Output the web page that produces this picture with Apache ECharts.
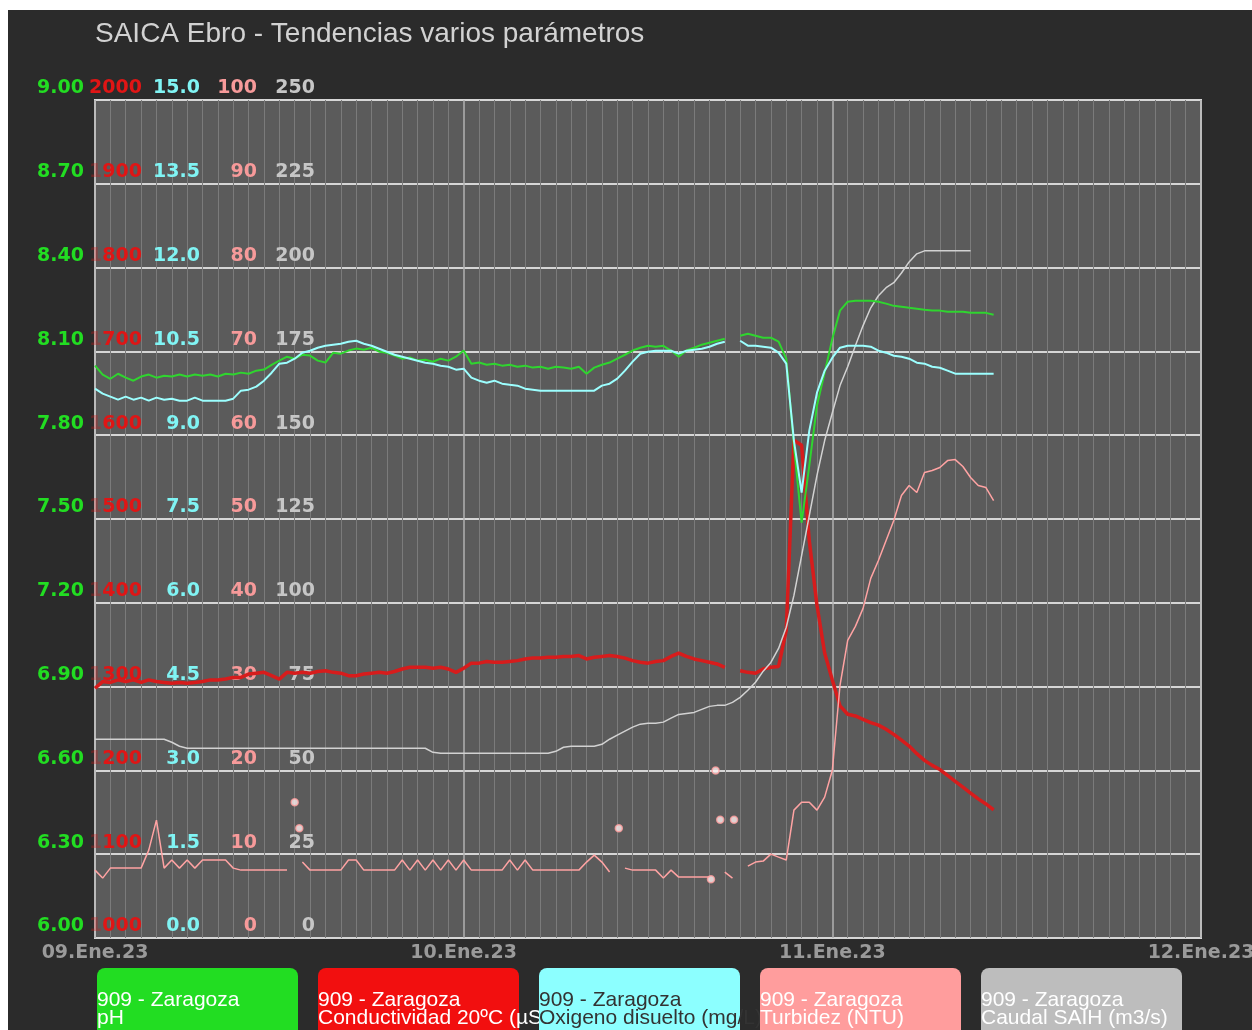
<!DOCTYPE html>
<html>
<head>
<meta charset="utf-8">
<title>SAICA Ebro - Tendencias varios parámetros</title>
<script src="https://cdn.jsdelivr.net/npm/echarts@6/dist/echarts.min.js"></script>
<style>
  html, body { margin: 0; padding: 0; background: #ffffff; }
  #chart { position: absolute; left: 8px; top: 10px; width: 1244px; height: 1020px; }
</style>
</head>
<body>
<div id="chart"></div>
<script>
// Station 909 - Zaragoza, readings every 30 minutes from 09.Ene.23 00:00
const STEP_HOURS = 0.5;
const dayLabels = ['09.Ene.23', '10.Ene.23', '11.Ene.23', '12.Ene.23'];

const NAME_PH = 'pH';
const NAME_COND = 'Conductividad 20ºC (µS/cm)';
const NAME_O2 = 'Oxigeno disuelto (mg/L)';
const NAME_TURB = 'Turbidez (NTU)';
const NAME_FLOW = 'Caudal SAIH (m3/s)';

const ph = [
  8.049, 8.017, 8.002, 8.020, 8.006, 7.995, 8.010, 8.017, 8.006, 8.013,
  8.010, 8.017, 8.010, 8.017, 8.013, 8.017, 8.010, 8.020, 8.017, 8.024,
  8.020, 8.031, 8.035, 8.052, 8.067, 8.081, 8.074, 8.088, 8.085, 8.067,
  8.060, 8.095, 8.092, 8.103, 8.110, 8.106, 8.113, 8.099, 8.095, 8.085,
  8.074, 8.078, 8.067, 8.070, 8.063, 8.074, 8.067, 8.081, 8.103, 8.056,
  8.060, 8.052, 8.056, 8.049, 8.052, 8.045, 8.049, 8.042, 8.045, 8.038,
  8.045, 8.042, 8.038, 8.045, 8.020, 8.042, 8.052, 8.060, 8.074, 8.088,
  8.103, 8.113, 8.120, 8.117, 8.120, 8.103, 8.081, 8.103, 8.113, 8.124,
  8.131, 8.138, 8.145, null, 8.156, 8.163, 8.156, 8.149, 8.149, 8.135,
  8.074, 7.763, 7.487, 7.691, 7.906, 8.024, 8.145, 8.246, 8.278, 8.281,
  8.281, 8.281, 8.278, 8.271, 8.263, 8.260, 8.256, 8.253, 8.249, 8.246,
  8.246, 8.242, 8.242, 8.242, 8.238, 8.238, 8.238, 8.231
];

const conductivity = [
  1298, 1306, 1305, 1308, 1306, 1308, 1305, 1308, 1306, 1305,
  1304, 1305, 1304, 1305, 1306, 1308, 1308, 1309, 1311, 1311,
  1315, 1316, 1317, 1313, 1309, 1317, 1316, 1317, 1316, 1318,
  1319, 1317, 1316, 1313, 1313, 1315, 1316, 1317, 1316, 1318,
  1321, 1323, 1323, 1323, 1322, 1323, 1321, 1317, 1322, 1328,
  1328, 1330, 1329, 1329, 1330, 1331, 1333, 1334, 1334, 1335,
  1335, 1336, 1336, 1337, 1333, 1335, 1336, 1337, 1336, 1334,
  1331, 1329, 1328, 1330, 1331, 1336, 1340, 1336, 1333, 1331,
  1329, 1327, 1323, null, 1319, 1317, 1316, 1321, 1323, 1324,
  1367, 1594, 1588, 1474, 1397, 1340, 1308, 1277, 1267, 1265,
  1261, 1257, 1254, 1249, 1243, 1236, 1229, 1220, 1212, 1206,
  1201, 1194, 1187, 1180, 1173, 1166, 1160, 1153
];

const oxygen = [
  9.833, 9.744, 9.690, 9.636, 9.690, 9.636, 9.672, 9.618, 9.672, 9.636,
  9.654, 9.618, 9.618, 9.672, 9.618, 9.618, 9.618, 9.618, 9.654, 9.797,
  9.815, 9.869, 9.976, 10.119, 10.280, 10.298, 10.369, 10.477, 10.512, 10.566,
  10.602, 10.620, 10.637, 10.673, 10.691, 10.637, 10.602, 10.548, 10.494, 10.441,
  10.405, 10.369, 10.333, 10.298, 10.280, 10.244, 10.226, 10.173, 10.190, 10.030,
  9.976, 9.940, 9.976, 9.922, 9.904, 9.887, 9.833, 9.815, 9.797, 9.797,
  9.797, 9.797, 9.797, 9.797, 9.797, 9.797, 9.887, 9.922, 10.012, 10.155,
  10.316, 10.459, 10.494, 10.512, 10.512, 10.512, 10.459, 10.512, 10.530, 10.548,
  10.584, 10.637, 10.673, null, 10.691, 10.602, 10.602, 10.584, 10.566, 10.477,
  10.280, 8.903, 7.974, 9.082, 9.761, 10.155, 10.387, 10.566, 10.602, 10.602,
  10.602, 10.584, 10.512, 10.477, 10.423, 10.405, 10.369, 10.298, 10.280, 10.226,
  10.208, 10.155, 10.101, 10.101, 10.101, 10.101, 10.101, 10.101
];

const turbidity = [
  8.10, 7.15, 8.34, 8.34, 8.34, 8.34, 8.34, 10.49, 14.06, 8.34,
  9.30, 8.34, 9.30, 8.34, 9.30, 9.30, 9.30, 9.30, 8.34, 8.10,
  8.10, 8.10, 8.10, 8.10, 8.10, 8.10, null, 9.06, 8.10, 8.10,
  8.10, 8.10, 8.10, 9.30, 9.30, 8.10, 8.10, 8.10, 8.10, 8.10,
  9.30, 8.10, 9.30, 8.10, 9.30, 8.10, 9.30, 8.10, 9.30, 8.10,
  8.10, 8.10, 8.10, 8.10, 9.30, 8.10, 9.30, 8.10, 8.10, 8.10,
  8.10, 8.10, 8.10, 8.10, 9.06, 9.89, 9.06, 7.87, null, 8.34,
  8.10, 8.10, 8.10, 8.10, 7.15, 8.10, 7.27, 7.27, 7.27, 7.27,
  7.27, null, 7.87, 7.15, null, 8.58, 9.06, 9.18, 10.01, 9.65,
  9.30, 15.26, 16.21, 16.21, 15.26, 16.81, 20.02, 30.16, 35.52, 37.19,
  39.33, 42.91, 45.05, 47.44, 49.82, 52.80, 53.99, 53.16, 55.54, 55.78,
  56.14, 56.97, 57.09, 56.26, 54.95, 53.99, 53.75, 52.20
];

// isolated turbidity readings (hours since 09.Ene.23 00:00)
const turbidityDotHours = [13.0, 13.3, 34.1, 40.1, 40.4, 40.7, 41.6];
const turbidityDotValues = [16.2, 13.1, 13.1, 7.0, 20.0, 14.1, 14.1];

const flow = [
  59.3, 59.3, 59.3, 59.3, 59.3, 59.3, 59.3, 59.3, 59.3, 59.3,
  58.4, 57.2, 56.6, 56.6, 56.6, 56.6, 56.6, 56.6, 56.6, 56.6,
  56.6, 56.6, 56.6, 56.6, 56.6, 56.6, 56.6, 56.6, 56.6, 56.6,
  56.6, 56.6, 56.6, 56.6, 56.6, 56.6, 56.6, 56.6, 56.6, 56.6,
  56.6, 56.6, 56.6, 56.6, 55.4, 55.1, 55.1, 55.1, 55.1, 55.1,
  55.1, 55.1, 55.1, 55.1, 55.1, 55.1, 55.1, 55.1, 55.1, 55.1,
  55.7, 56.9, 57.2, 57.2, 57.2, 57.2, 57.8, 59.3, 60.5, 61.7,
  62.9, 63.8, 64.1, 64.1, 64.4, 65.6, 66.7, 67.0, 67.3, 68.2,
  69.1, 69.4, 69.4, 70.3, 71.8, 73.9, 76.3, 79.6, 82.2, 86.4,
  92.7, 102.2, 114.1, 126.0, 138.0, 148.4, 156.7, 164.8, 170.4, 176.7,
  182.7, 188.0, 191.6, 194.0, 195.5, 198.4, 201.7, 204.1, 205.0, 205.0,
  205.0, 205.0, 205.0, 205.0, 205.0, null, null, null
];

const toPoints = values => values.map((v, i) => [i * STEP_HOURS, v]);

const LABEL_FONT = { fontFamily: 'DejaVu Sans', fontSize: 19, fontWeight: 'bold' };

function valueAxis(min, max, interval, color, margin, formatter, extra) {
  return Object.assign({
    type: 'value',
    position: 'left',
    min: min,
    max: max,
    interval: interval,
    axisLine: { show: false },
    axisTick: { show: false },
    splitLine: { show: false },
    axisLabel: Object.assign({
      color: color,
      margin: margin,
      verticalAlign: 'bottom',
      padding: [0, 0, 2, 0],
      formatter: formatter
    }, LABEL_FONT)
  }, extra || {});
}

const condAxis = valueAxis(1000, 2000, 100, '#e01515', -47, v =>
  v >= 2000 ? '{n|' + v + '}' : '{f|' + String(v).charAt(0) + '}{n|' + String(v).slice(1) + '}');
condAxis.axisLabel.rich = {
  n: Object.assign({ color: '#e01515' }, LABEL_FONT),
  f: Object.assign({ color: 'rgba(224,21,21,0.3)' }, LABEL_FONT)
};

// one legend tile per series; a long name runs on and is hidden under the next tile
const legendTiles = [
  { name: NAME_PH, bg: '#22dd22', fg: '#ffffff' },
  { name: NAME_COND, bg: '#f20f0f', fg: '#ffffff' },
  { name: NAME_O2, bg: '#8cffff', fg: '#333333' },
  { name: NAME_TURB, bg: '#ff9d9d', fg: '#ffffff' },
  { name: NAME_FLOW, bg: '#bdbdbd', fg: '#ffffff' }
];

const legends = legendTiles.map((tile, k) => ({
  left: 84 + 221 * k,
  top: 958,
  z: 10 + k,
  padding: 0,
  itemWidth: 0,
  itemHeight: 0,
  icon: 'none',
  formatter: name => '909 - Zaragoza\n' + name,
  data: [{
    name: tile.name,
    textStyle: {
      color: tile.fg,
      backgroundColor: tile.bg,
      borderRadius: [8, 8, 0, 0],
      width: 201,
      height: 60,
      padding: [22, 0, 0, 0],
      lineHeight: 18,
      fontSize: 21,
      fontFamily: 'Liberation Sans',
      overflow: 'none'
    }
  }]
}));

const chart = echarts.init(document.getElementById('chart'), null, { renderer: 'canvas' });

chart.setOption({
  animation: false,
  backgroundColor: '#2b2b2b',
  title: {
    text: 'SAICA Ebro - Tendencias varios parámetros',
    left: 87,
    top: 10,
    padding: 0,
    textStyle: { color: '#d2d2d2', fontSize: 28, fontWeight: 'normal', fontFamily: 'Liberation Sans' }
  },
  grid: {
    left: 87, right: 51, top: 90, bottom: 92,
    outerBoundsMode: 'none',
    containLabel: false,
    show: true,
    backgroundColor: '#5b5b5b',
    borderColor: '#dadada',
    borderWidth: 2
  },
  legend: legends,
  xAxis: {
    type: 'value',
    min: 0,
    max: 72,
    interval: 24,
    axisLine: { show: false },
    axisTick: { show: false },
    axisLabel: {
      color: '#9a9a9a',
      fontFamily: 'DejaVu Sans',
      fontSize: 19,
      fontWeight: 'bold',
      margin: 6,
      formatter: v => dayLabels[Math.round(v / 24)]
    },
    splitLine: { show: true, lineStyle: { color: '#b0b0b0', width: 1.5 } },
    minorTick: { show: false, splitNumber: 24 },
    minorSplitLine: { show: true, lineStyle: { color: '#7b7b7b', width: 1 } }
  },
  yAxis: [
    valueAxis(6, 9, 0.3, '#22dd22', 11, v => v.toFixed(2),
      { splitLine: { show: true, lineStyle: { color: '#d6d6d6', width: 2 } } }),
    condAxis,
    valueAxis(0, 15, 1.5, '#80f4f4', -105, v => v.toFixed(1)),
    valueAxis(0, 100, 10, '#f79a9a', -162, v => String(Math.round(v))),
    valueAxis(0, 250, 25, '#c6c6c6', -220, v => String(Math.round(v)))
  ],
  series: [
    {
      name: NAME_COND, type: 'line', yAxisIndex: 1, data: toPoints(conductivity),
      showSymbol: false, connectNulls: false,
      lineStyle: { color: '#d71c1c', width: 3.5 }, itemStyle: { color: '#f20f0f' }
    },
    {
      name: NAME_TURB, type: 'line', yAxisIndex: 3, data: toPoints(turbidity),
      showSymbol: false, connectNulls: false,
      lineStyle: { color: '#ffa3a3', width: 1.5 }, itemStyle: { color: '#ff9d9d' }
    },
    {
      name: NAME_TURB, type: 'scatter', yAxisIndex: 3,
      data: turbidityDotHours.map((h, i) => [h, turbidityDotValues[i]]),
      symbol: 'circle', symbolSize: 7,
      itemStyle: { color: '#fff0f0', borderColor: '#ff9d9d', borderWidth: 1.5 }
    },
    {
      name: NAME_FLOW, type: 'line', yAxisIndex: 4, data: toPoints(flow),
      showSymbol: false, connectNulls: false,
      lineStyle: { color: '#d2d2d2', width: 1.5 }, itemStyle: { color: '#bdbdbd' }
    },
    {
      name: NAME_PH, type: 'line', yAxisIndex: 0, data: toPoints(ph),
      showSymbol: false, connectNulls: false,
      lineStyle: { color: '#2fd52f', width: 2 }, itemStyle: { color: '#22dd22' }
    },
    {
      name: NAME_O2, type: 'line', yAxisIndex: 2, data: toPoints(oxygen),
      showSymbol: false, connectNulls: false,
      lineStyle: { color: '#9cffff', width: 2 }, itemStyle: { color: '#8cffff' }
    }
  ]
});
</script>
</body>
</html>
